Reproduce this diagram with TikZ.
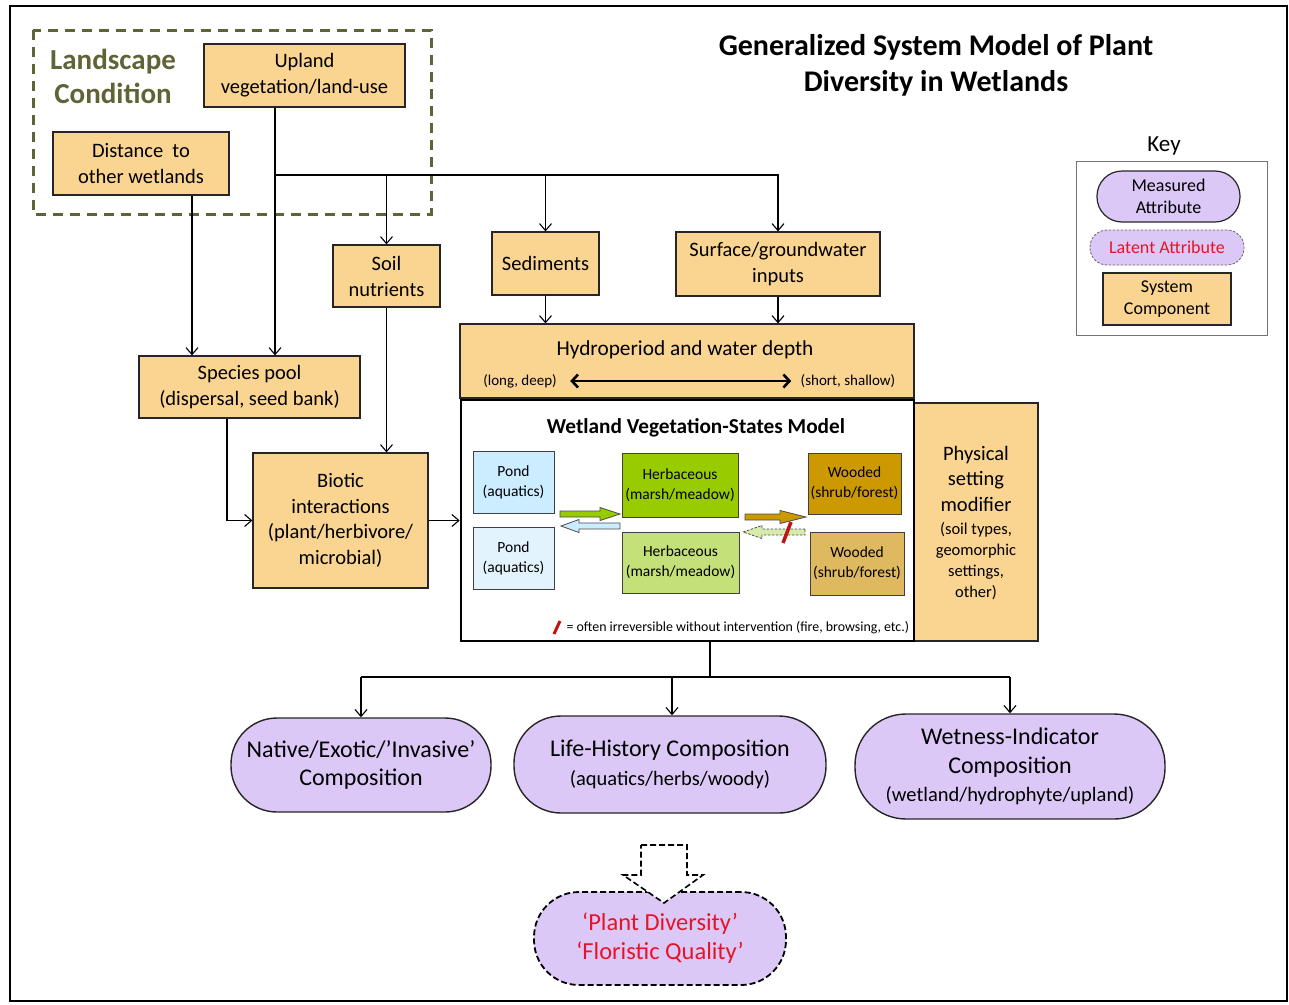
\documentclass[tikz,border=0pt]{standalone}
\usepackage{fontspec}
\setmainfont{Carlito}
\usetikzlibrary{arrows.meta,calc}
\definecolor{compfill}{RGB}{250,212,145}
\definecolor{attrfill}{RGB}{220,200,246}
\definecolor{olivetxt}{RGB}{95,100,55}
\definecolor{pondA}{RGB}{204,236,255}
\definecolor{pondB}{RGB}{226,243,254}
\definecolor{herbA}{RGB}{153,204,0}
\definecolor{herbB}{RGB}{196,224,120}
\definecolor{woodA}{RGB}{204,153,0}
\definecolor{woodB}{RGB}{222,185,95}
\definecolor{latentred}{RGB}{230,20,40}
\definecolor{slashred}{RGB}{190,20,20}
\definecolor{backfill}{RGB}{215,235,170}
% block arrow from x #2 to x #3 at height #4, head length #5
\def\fatarrow[#1](#2:#3:#4:#5){%
  \pgfmathsetmacro\fasign{sign(#3-#2)}%
  \draw[#1] (#2,#4-3) -- ({#3-(#5)*(\fasign)},#4-3) -- ({#3-(#5)*(\fasign)},#4-6.5) -- (#3,#4)
    -- ({#3-(#5)*(\fasign)},#4+6.5) -- ({#3-(#5)*(\fasign)},#4+3) -- (#2,#4+3) -- cycle;}
\tikzset{
  comp/.style={draw=black!85, line width=1.2pt, fill=compfill, align=center, inner sep=0pt,
    font=\fontsize{20.5}{26}\selectfont},
  vstate/.style={draw=black!75, line width=1pt, align=center, inner sep=0pt,
    font=\fontsize{15.5}{20}\selectfont},
  attr/.style={draw=black!85, line width=1.4pt, fill=attrfill, rounded corners=45pt, align=center,
    inner sep=0pt, font=\fontsize{24}{28.5}\selectfont},
  link/.style={line width=1.1pt, -{Straight Barb[length=7pt,width=12pt]}},
  wire/.style={line width=1.1pt},
}
\begin{document}
\begin{tikzpicture}[x=1pt,y=-1pt]
  \useasboundingbox (0,0) rectangle (1289,1004);
  %%%%% FRAME %%%%%
  \draw[line width=2.5pt] (10,6) rectangle (1287,1001);

  \node[font=\fontsize{30}{36}\selectfont\bfseries, align=center] (title) at (936,65)
    {Generalized System Model of Plant\\Diversity in Wetlands};

  %%%%% LANDSCAPE %%%%%
  \draw[olivetxt, line width=3pt, dash pattern=on 10pt off 7pt] (33,30) rectangle (431,214);
  \node[font=\fontsize{29}{34}\selectfont\bfseries, text=olivetxt, align=center] (landlbl) at (113,76)
    {Landscape\\Condition};
  \node[comp, minimum width=201, minimum height=63] (upland) at (304.5,75.5) {Upland\\vegetation/land-use};
  \node[comp, minimum width=176, minimum height=63] (dist) at (141,163.5) {Distance~ to\\other wetlands};

  %%%%% COMPONENTS %%%%%
  \node[comp, minimum width=107, minimum height=62] (soil) at (386.5,276) {Soil\\nutrients};
  \node[comp, minimum width=107, minimum height=63] (sed) at (545.5,263.5) {Sediments};
  \node[comp, minimum width=204, minimum height=64] (surface) at (778,264) {Surface/groundwater\\inputs};
  \node[comp, minimum width=454, minimum height=74] (hydro) at (687,361) {};
  \node[font=\fontsize{21.3}{26}\selectfont] (hydrotxt) at (685,350) {Hydroperiod and water depth};
  \node[font=\fontsize{15}{18}\selectfont] (deep) at (520,381) {(long, deep)};
  \node[font=\fontsize{15}{18}\selectfont] (shallow) at (848,381) {(short, shallow)};
  \draw[line width=2.6pt, {Straight Barb[length=6pt,width=13pt]}-{Straight Barb[length=6pt,width=13pt]}]
    ([xshift=10pt]deep.east) -- ([xshift=-6pt]shallow.west);
  \node[comp, minimum width=221, minimum height=62] (pool) at (249.5,387) {Species pool\\(dispersal, seed bank)};
  \node[comp, minimum width=175, minimum height=135, font=\fontsize{20.5}{25.5}\selectfont] (biotic) at (340.5,520.5)
    {Biotic\\interactions\\(plant/herbivore/\\microbial)};
  \node[comp, minimum width=124, minimum height=238] (phys) at (976,522) {};
  \node[align=center, font=\fontsize{20.5}{25.5}\selectfont] (physA) at (976,478.5) {Physical\\setting\\modifier};
  \node[align=center, font=\fontsize{16.5}{21}\selectfont] (physB) at (976,561.5)
    {(soil types,\\geomorphic\\settings,\\other)};

  %%%%% VEGETATION STATES %%%%%
  \node[draw, line width=2.6pt, fill=white, minimum width=453, minimum height=241] (states) at (687.5,520.5) {};
  \node[font=\fontsize{21.3}{25}\selectfont\bfseries] (statestitle) at (696,428) {Wetland Vegetation-States Model};
  \node[vstate, fill=pondA, minimum width=81, minimum height=62] (pondA) at (513.5,482) {Pond\\(aquatics)};
  \node[vstate, fill=pondB, minimum width=81, minimum height=62] (pondB) at (513.5,558) {Pond\\(aquatics)};
  \node[vstate, fill=herbA, minimum width=116, minimum height=64] (herbA) at (680,485) {Herbaceous\\(marsh/meadow)};
  \node[vstate, fill=herbB, minimum width=117, minimum height=61] (herbB) at (680.5,562.5) {Herbaceous\\(marsh/meadow)};
  \node[vstate, fill=woodA, minimum width=93, minimum height=61] (woodA) at (854.5,483.5) {Wooded\\(shrub/forest)};
  \node[vstate, fill=woodB, minimum width=94, minimum height=63] (woodB) at (857,563.5) {Wooded\\(shrub/forest)};
  \fatarrow[fill=herbA, draw=black!70, line width=0.8pt](560:620:514:20)
  \fatarrow[fill=pondA, draw=black!70, line width=0.8pt](620:561:526:18)
  \fatarrow[fill=woodA, draw=black!70, line width=0.8pt](745:806:517:26)
  \fatarrow[fill=backfill, draw=black!70, line width=0.8pt, dash pattern=on 2.5pt off 1.5pt](805:743:532:19)
  \draw[slashred, line width=3.5pt] (783,543) -- (791,522);
  \draw[slashred, line width=3pt] (554,634) -- (560,621);
  \node[anchor=west, font=\fontsize{13.9}{16}\selectfont] (irrev) at (563,628)
    {= often irreversible without intervention (fire, browsing, etc.)};

  %%%%% ATTRIBUTES %%%%%
  \node[attr, rounded corners=46pt, minimum width=260, minimum height=94] (native) at (361,765)
    {Native/Exotic/’Invasive’\\Composition};
  \node[attr, rounded corners=47pt, minimum width=312, minimum height=97] (life) at (670,764.5)
    {Life-History Composition\\{\fontsize{20.5}{25}\selectfont(aquatics/herbs/woody)}};
  \node[attr, rounded corners=51pt, minimum width=310, minimum height=105] (wet) at (1010,766.5)
    {Wetness-Indicator\\Composition\\{\fontsize{20.5}{25}\selectfont(wetland/hydrophyte/upland)}};
  \node[attr, rounded corners=45pt, dash pattern=on 6pt off 3pt, line width=1.8pt, draw=black,
    minimum width=252, minimum height=93, text=latentred, font=\fontsize{24.5}{29}\selectfont] (div)
    at (660,938.5) {‘Plant Diversity’\\‘Floristic Quality’};
  \draw[fill=white, line width=1.6pt, dash pattern=on 6pt off 3pt]
    (641,845) -- (687,845) -- (687,875) -- (703,875) -- (664,903) -- (623,875) -- (641,875) -- cycle;

  %%%%% KEY %%%%%
  \node[font=\fontsize{23}{27}\selectfont] (keylbl) at (1164,146) {Key};
  \node[draw=black!55, line width=1pt, minimum width=191, minimum height=174] (keybox) at (1171.5,248) {};
  \node[attr, rounded corners=25pt, line width=1.2pt, minimum width=143, minimum height=51,
    font=\fontsize{18}{22}\selectfont] (measured) at (1168.5,196.5) {Measured\\Attribute};
  \node[attr, rounded corners=17pt, line width=0.8pt, draw=black!60, dash pattern=on 2.5pt off 1.5pt,
    minimum width=154, minimum height=35, text=latentred, font=\fontsize{18}{22}\selectfont] (latent)
    at (1167,247.5) {Latent Attribute};
  \node[comp, minimum width=128, minimum height=52, font=\fontsize{18}{22}\selectfont] (syscomp)
    at (1167,299) {System\\Component};

  %%%%% CONNECTORS %%%%%
  \coordinate (upj) at (275,175);
  \draw[wire] (upj) -- (sed.north |- upj);
  \draw[link] (upland.south -| upj) -- (upj |- pool.north);
  \draw[link] (upj) -| (soil.north);
  \draw[link] (upj) -| (sed.north);
  \draw[link] (upj) -| (surface.north);
  \draw[link] ([xshift=51pt]dist.south) -- ([xshift=51pt]dist.south |- pool.north);
  \draw[link] (sed.south) -- (sed.south |- hydro.north);
  \draw[link] (surface.south) -- (surface.south |- hydro.north);
  \draw[link] (soil.south) -- (soil.south |- biotic.north);
  \draw[link] ([xshift=-22.5pt]pool.south) |- (biotic.west);
  \draw[link] (biotic.east) -- (states.west);
  \coordinate (bar) at (710,677);
  \draw[wire] ([xshift=22.5pt]states.south) -- (bar);
  \draw[wire] (native.north |- bar) -- (wet.north |- bar);
  \draw[link] (native.north |- bar) -- (native.north);
  \draw[link] ([xshift=2pt]life.north |- bar) -- ([xshift=2pt]life.north);
  \draw[link] (wet.north |- bar) -- (wet.north);
\end{tikzpicture}
\end{document}
